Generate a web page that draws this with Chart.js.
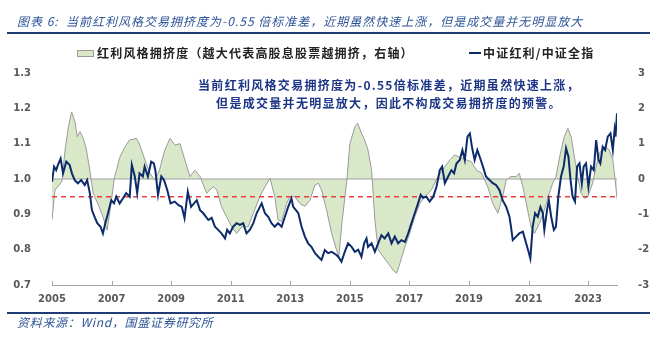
<!DOCTYPE html>
<html>
<head>
<meta charset="utf-8">
<script src="https://cdn.jsdelivr.net/npm/chart.js@4"></script>
<style>
  body { margin: 0; background: #fff; }
  #wrap { position: relative; width: 660px; height: 337px; overflow: hidden; font-family: "Noto Sans CJK SC", sans-serif; }
  #chart { position: absolute; left: 0; top: 0; }
  .abs { position: absolute; white-space: nowrap; }
  .title { left: 17px; top: 13px; font-size: 12px; line-height: 16px; color: #2f5597; font-style: italic; letter-spacing: 1px; }
  .rule { left: 7px; width: 643px; height: 2px; background: #1f3d73; }
  .legend { top: 45px; font-size: 12px; line-height: 16px; font-weight: bold; color: #222; letter-spacing: 1.2px; }
  .note { left: 189px; width: 400px; text-align: center; font-size: 12px; line-height: 18px; font-weight: bold; color: #1d3585; letter-spacing: 1.3px; }
  .source { left: 17px; top: 314px; font-size: 12px; line-height: 16px; color: #2f5597; font-style: italic; letter-spacing: 0.7px; }
</style>
</head>
<body>
<div id="wrap">
  <canvas id="chart" width="660" height="337"></canvas>
  <div class="abs title">图表 6:&nbsp; 当前红利风格交易拥挤度为-0.55 倍标准差，近期虽然快速上涨，但是成交量并无明显放大</div>
  <div class="abs rule" style="top:32px"></div>
  <div class="abs" style="left:77px; top:50px; width:15px; height:5px; background:#d9e8c9; border:1px solid #9a9a9a"></div>
  <div class="abs legend" style="left:97px">红利风格拥挤度（越大代表高股息股票越拥挤，右轴）</div>
  <div class="abs" style="left:469px; top:52px; width:12px; height:2px; background:#0c2b6b"></div>
  <div class="abs legend" style="left:483px">中证红利/中证全指</div>
  <div class="abs note" style="top:76px">当前红利风格交易拥挤度为-0.55倍标准差，近期虽然快速上涨，<br>但是成交量并无明显放大，因此不构成交易拥挤度的预警。</div>
  <div class="abs rule" style="top:312px"></div>
  <div class="abs source">资料来源：Wind，国盛证券研究所</div>
</div>
<script>
// x axis: decimal years
const yearTicks = [2005, 2007, 2009, 2011, 2013, 2015, 2017, 2019, 2021, 2023];
const xMin = 2005;
const xMax = 2023.97;

// 红利风格拥挤度 (right axis)
const crowdYears = [
  2005.00,2005.10,2005.33,2005.44,2005.55,2005.66,2005.77,2005.85,2005.94,2006.05,
  2006.15,2006.27,2006.38,2006.54,2006.71,2006.85,2006.98,2007.10,2007.15,2007.27,
  2007.44,2007.60,2007.84,2007.95,2008.12,2008.29,2008.45,2008.61,2008.78,2008.96,
  2009.13,2009.30,2009.46,2009.63,2009.80,2009.97,2010.19,2010.41,2010.53,2010.69,
  2010.86,2011.03,2011.20,2011.37,2011.59,2011.76,2011.98,2012.15,2012.32,2012.48,
  2012.59,2012.71,2012.88,2012.99,2013.15,2013.32,2013.49,2013.66,2013.83,2013.94,
  2014.05,2014.22,2014.39,2014.55,2014.63,2014.74,2014.90,2015.00,2015.17,2015.26,
  2015.39,2015.50,2015.61,2015.73,2015.84,2015.95,2016.12,2016.29,2016.45,2016.57,
  2016.68,2016.85,2017.01,2017.18,2017.35,2017.52,2017.74,2017.96,2018.19,2018.36,
  2018.52,2018.75,2018.92,2019.08,2019.25,2019.42,2019.63,2019.80,2019.97,2020.13,
  2020.25,2020.41,2020.58,2020.69,2020.81,2020.97,2021.08,2021.20,2021.37,2021.53,
  2021.70,2021.81,2021.92,2022.07,2022.20,2022.32,2022.43,2022.54,2022.65,2022.76,
  2022.88,2022.99,2023.15,2023.27,2023.38,2023.55,2023.71,2023.83,2023.91,2023.97
];
const crowdValues = [
  -1.15,-0.31,-0.08,0.82,1.48,1.9,1.62,1.2,1.34,1.15,
  0.85,0.25,-0.4,-0.7,-1.07,-1.45,-0.7,0.07,0.2,0.6,
  0.9,1.1,1.15,0.96,0.54,0.16,-0.03,0.25,0.8,1.15,
  0.96,1.0,0.54,0.07,0.25,0.07,-0.4,-0.22,-0.3,-0.78,
  -1.07,-1.35,-1.54,-1.35,-1.35,-0.97,-0.5,-0.22,0.02,-0.5,
  -1.16,-1.2,-0.69,-0.5,-0.5,-0.69,-0.78,-0.6,-0.17,-0.12,
  -0.31,-0.88,-1.54,-2.0,-2.2,-1.2,-0.03,1.0,1.48,1.58,
  1.3,1.1,0.82,0.25,-1.16,-2.0,-2.2,-2.39,-2.58,-2.67,
  -2.39,-1.92,-1.54,-1.07,-0.69,-0.5,-0.31,0.07,0.35,0.54,
  0.68,0.59,0.54,0.49,0.25,0.17,-0.22,-0.69,-0.97,-0.5,
  -0.03,0.07,0.07,0.16,-0.22,-0.88,-1.35,-1.54,-1.25,-0.88,
  -0.4,-0.12,0.07,0.73,1.2,1.43,1.2,0.63,0.07,-0.4,
  -0.55,-0.5,-0.12,0.35,0.73,0.92,0.82,0.54,-0.03,-0.55
];

// 中证红利/中证全指 (left axis)
const ratioYears = [
  2005.00,2005.07,2005.14,2005.20,2005.29,2005.37,2005.48,2005.59,2005.67,2005.76,
  2005.87,2005.98,2006.10,2006.18,2006.27,2006.34,2006.43,2006.52,2006.63,2006.71,
  2006.79,2006.88,2006.99,2007.08,2007.16,2007.27,2007.38,2007.49,2007.61,2007.68,
  2007.78,2007.86,2007.94,2008.05,2008.11,2008.22,2008.33,2008.42,2008.47,2008.56,
  2008.67,2008.76,2008.87,2008.98,2009.12,2009.25,2009.36,2009.45,2009.56,2009.67,
  2009.86,2009.97,2010.08,2010.25,2010.36,2010.47,2010.58,2010.69,2010.81,2010.88,
  2010.97,2011.08,2011.20,2011.31,2011.42,2011.53,2011.64,2011.76,2011.87,2011.98,
  2012.04,2012.15,2012.26,2012.37,2012.48,2012.59,2012.71,2012.82,2012.93,2013.04,
  2013.10,2013.19,2013.27,2013.38,2013.49,2013.60,2013.71,2013.83,2013.94,2014.05,
  2014.16,2014.27,2014.39,2014.55,2014.61,2014.72,2014.83,2014.94,2015.06,2015.17,
  2015.28,2015.39,2015.48,2015.56,2015.61,2015.73,2015.84,2015.95,2016.06,2016.17,
  2016.29,2016.40,2016.51,2016.62,2016.73,2016.85,2016.96,2017.07,2017.18,2017.29,
  2017.38,2017.46,2017.57,2017.68,2017.80,2017.91,2018.02,2018.10,2018.19,2018.30,
  2018.41,2018.50,2018.58,2018.69,2018.78,2018.86,2018.95,2019.03,2019.10,2019.19,
  2019.28,2019.36,2019.47,2019.57,2019.69,2019.80,2019.91,2020.02,2020.13,2020.25,
  2020.36,2020.41,2020.47,2020.58,2020.69,2020.81,2020.92,2021.00,2021.06,2021.14,
  2021.22,2021.31,2021.40,2021.48,2021.53,2021.62,2021.68,2021.76,2021.85,2021.92,
  2022.00,2022.09,2022.18,2022.26,2022.34,2022.41,2022.48,2022.56,2022.63,2022.71,
  2022.79,2022.85,2022.93,2023.01,2023.10,2023.19,2023.27,2023.35,2023.41,2023.49,
  2023.57,2023.66,2023.75,2023.83,2023.89,2023.92,2023.97
];
const ratioValues = [
  0.992,1.035,1.025,1.04,1.058,1.016,1.049,1.04,1.016,0.997,
  0.988,0.997,0.983,0.997,0.96,0.912,0.893,0.875,0.865,0.846,
  0.875,0.903,0.94,0.931,0.95,0.931,0.945,0.96,0.95,1.04,
  1.007,0.96,1.016,1.007,1.035,1.007,1.049,1.044,1.025,0.955,
  1.007,0.997,0.969,0.931,0.936,0.926,0.921,0.889,0.964,0.921,
  0.94,0.912,0.903,0.884,0.89,0.865,0.856,0.846,0.832,0.856,
  0.846,0.865,0.875,0.87,0.875,0.846,0.856,0.875,0.903,0.921,
  0.931,0.903,0.893,0.875,0.865,0.875,0.865,0.893,0.921,0.945,
  0.921,0.912,0.903,0.865,0.837,0.818,0.808,0.79,0.78,0.771,
  0.799,0.79,0.794,0.785,0.78,0.766,0.794,0.818,0.808,0.794,
  0.8,0.78,0.818,0.832,0.808,0.818,0.794,0.818,0.841,0.832,
  0.846,0.818,0.837,0.818,0.827,0.822,0.846,0.875,0.903,0.931,
  0.955,0.947,0.95,0.936,0.95,0.978,1.025,1.035,0.988,1.007,
  1.025,1.016,1.044,1.054,1.082,1.054,1.12,1.129,1.091,1.054,
  1.082,1.063,1.035,1.007,0.997,0.988,0.983,0.969,0.94,0.921,
  0.893,0.865,0.827,0.837,0.846,0.851,0.818,0.794,0.775,0.865,
  0.903,0.893,0.921,0.903,0.856,0.912,0.94,0.893,0.856,0.865,
  0.95,1.007,1.035,1.087,1.063,0.997,0.95,0.936,1.035,1.044,
  0.988,1.035,1.044,0.978,1.035,1.025,1.11,1.054,1.044,1.091,
  1.082,1.12,1.129,1.082,1.139,1.12,1.186
];

// red dashed warning level (left axis)
const warnLevel = 0.95;

const toPoints = (xs, ys) => xs.map((x, i) => ({ x: x, y: ys[i] }));

// small ticks pointing up into the plot from the x axis
const innerTicks = {
  id: 'innerTicks',
  afterDraw(chart) {
    const { ctx, scales: { x }, chartArea } = chart;
    ctx.save();
    ctx.strokeStyle = '#a6a6a6';
    ctx.lineWidth = 1;
    yearTicks.forEach(v => {
      const px = Math.round(x.getPixelForValue(v)) + 0.5;
      ctx.beginPath();
      ctx.moveTo(px, chartArea.bottom);
      ctx.lineTo(px, chartArea.bottom - 4);
      ctx.stroke();
    });
    ctx.restore();
  }
};

const tickFont = { family: 'DejaVu Sans', size: 10, weight: 'bold' };

new Chart(document.getElementById('chart'), {
  type: 'line',
  data: {
    datasets: [
      {
        label: '中证红利/中证全指',
        data: toPoints(ratioYears, ratioValues),
        yAxisID: 'yL',
        borderColor: '#0c2b6b',
        borderWidth: 2,
        pointRadius: 0,
        fill: false
      },
      {
        label: 'warn',
        data: [{ x: xMin, y: warnLevel }, { x: xMax, y: warnLevel }],
        yAxisID: 'yL',
        borderColor: '#e8403c',
        borderWidth: 1.5,
        borderDash: [5, 4],
        pointRadius: 0,
        fill: false
      },
      {
        label: 'zero',
        data: [{ x: xMin, y: 0 }, { x: xMax, y: 0 }],
        yAxisID: 'yR',
        borderColor: '#a0a0a0',
        borderWidth: 1,
        pointRadius: 0,
        fill: false
      },
      {
        label: '红利风格拥挤度（越大代表高股息股票越拥挤，右轴）',
        data: toPoints(crowdYears, crowdValues),
        yAxisID: 'yR',
        borderColor: '#9a9a9a',
        borderWidth: 1,
        backgroundColor: '#d9e8c9',
        pointRadius: 0,
        fill: 'origin'
      }
    ]
  },
  options: {
    responsive: false,
    animation: false,
    layout: { padding: { top: 73, left: 0, right: 0, bottom: 0 } },
    plugins: {
      legend: { display: false },
      tooltip: { enabled: false }
    },
    scales: {
      x: {
        type: 'linear',
        min: xMin,
        max: xMax,
        afterBuildTicks: s => { s.ticks = yearTicks.map(v => ({ value: v })); },
        afterFit: s => { s.height = 52; },
        grid: { display: true, drawOnChartArea: false, drawTicks: false, color: 'rgba(0,0,0,0)' },
        border: { display: true, color: '#a6a6a6', width: 1 },
        ticks: { padding: 8, color: '#595959', font: tickFont, maxRotation: 0, callback: v => String(v) }
      },
      yL: {
        position: 'left',
        min: 0.7,
        max: 1.3,
        afterFit: s => { s.width = 52; },
        grid: { display: false },
        border: { display: false },
        ticks: { stepSize: 0.1, padding: 13, color: '#595959', font: tickFont, callback: v => v.toFixed(1) }
      },
      yR: {
        position: 'right',
        min: -3,
        max: 3,
        afterFit: s => { s.width = 43; },
        grid: { display: false },
        border: { display: false },
        ticks: { stepSize: 1, padding: 13, color: '#595959', font: tickFont }
      }
    }
  },
  plugins: [innerTicks]
});
</script>
</body>
</html>
